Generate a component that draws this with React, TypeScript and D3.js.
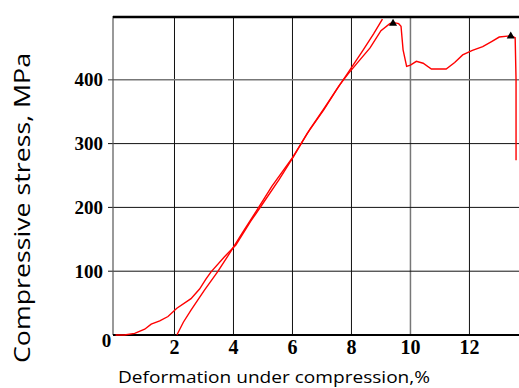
import { useEffect, useRef } from 'react'
import * as d3 from 'd3'

// curve starting at the origin
const curveAX = [0, 0.3, 0.65, 0.99, 1.21, 1.5, 1.78, 2.08, 2.56, 2.85, 3.07, 3.24, 3.68, 4.08, 4.58, 4.92, 5.54, 6.04, 6.5, 7.06, 7.5, 7.84, 8.4, 8.75, 9.05]
const curveAY = [0, 0, 2.6, 9, 17, 22, 29, 42, 57, 72, 88, 99, 122, 141, 178, 201, 243, 280, 316, 353, 385, 408, 447, 472, 495]

// curve starting at 2 %, running to failure
const curveBX = [2.08, 2.3, 2.56, 3.01, 3.46, 3.91, 4.3, 4.8, 5.3, 6.0, 6.6, 7.1, 7.6, 7.9, 8.3, 8.63, 9.0, 9.3, 9.41, 9.6, 9.68, 9.75, 9.87, 10.0, 10.2, 10.43, 10.71, 11.21, 11.5, 11.77, 12.1, 12.45, 12.75, 13.01, 13.4, 13.55, 13.58, 13.58]
const curveBY = [0, 20, 39, 70, 99, 131, 160, 196, 233, 278, 323, 357, 392, 410, 432, 450, 477, 488, 490, 488, 484, 447, 421, 423, 429, 426, 417, 417, 427, 439, 446, 452, 460, 467, 469, 466, 400, 274]

// black markers on the curve
const markerX = [9.41, 13.4]
const markerY = [490, 470]

const xTicks = [2, 4, 6, 8, 10, 12]
const yTicks = [100, 200, 300, 400]
const greyX = [10]
const greyY = [400]

export default function App() {
  const svgRef = useRef<SVGSVGElement>(null)

  useEffect(() => {
    if (!svgRef.current) return
    const svg = d3.select(svgRef.current)
    svg.selectAll('*').remove()

    const x = d3.scaleLinear().domain([0, 13.68]).range([115.5, 519])
    const y = d3.scaleLinear().domain([0, 500]).range([335, 16])
    const left = 113

    const grid = svg.append('g')

    // vertical grid lines
    xTicks.forEach(t => {
      grid.append('line')
        .attr('x1', x(t)).attr('x2', x(t))
        .attr('y1', y(500)).attr('y2', y(0))
        .attr('stroke', greyX.includes(t) ? '#777' : '#111')
        .attr('stroke-width', greyX.includes(t) ? 1.5 : 1)
    })

    // horizontal grid lines + ticks
    yTicks.forEach(t => {
      grid.append('line')
        .attr('x1', left - 5).attr('x2', 519)
        .attr('y1', y(t)).attr('y2', y(t))
        .attr('stroke', greyY.includes(t) ? '#777' : '#111')
        .attr('stroke-width', greyY.includes(t) ? 1.5 : 1)
    })

    // left axis
    grid.append('line')
      .attr('x1', left).attr('x2', left)
      .attr('y1', y(500)).attr('y2', y(0))
      .attr('stroke', '#555').attr('stroke-width', 1.2)

    // top border and zero line
    grid.append('line')
      .attr('x1', left).attr('x2', 519)
      .attr('y1', y(500) + 1).attr('y2', y(500) + 1)
      .attr('stroke', '#000').attr('stroke-width', 2.5)
    grid.append('line')
      .attr('x1', left).attr('x2', 519)
      .attr('y1', y(0)).attr('y2', y(0))
      .attr('stroke', '#000').attr('stroke-width', 2)

    const line = d3.line<[number, number]>()
      .x(d => x(d[0]))
      .y(d => y(d[1]))

    const a = curveAX.map((v, i) => [v, curveAY[i]] as [number, number])
    const b = curveBX.map((v, i) => [v, curveBY[i]] as [number, number])

    ;[a, b].forEach(pts => {
      svg.append('path')
        .attr('d', line(pts))
        .attr('fill', 'none')
        .attr('stroke', '#ff0000')
        .attr('stroke-width', 1.4)
    })

    const tri = d3.symbol().type(d3.symbolTriangle).size(28)
    markerX.forEach((mx, i) => {
      svg.append('path')
        .attr('d', tri())
        .attr('transform', `translate(${x(mx)},${y(markerY[i]) + 1})`)
        .attr('fill', '#000')
    })

    const serif = '"Liberation Serif", "Times New Roman", serif'

    // y tick labels
    yTicks.forEach(t => {
      svg.append('text')
        .attr('x', 103).attr('y', y(t))
        .attr('dy', '0.35em')
        .attr('text-anchor', 'end')
        .attr('font-family', serif)
        .attr('font-weight', 'bold')
        .attr('font-size', 19)
        .text(t)
    })

    svg.append('text')
      .attr('x', 106.5).attr('y', 347)
      .attr('text-anchor', 'middle')
      .attr('font-family', serif)
      .attr('font-weight', 'bold')
      .attr('font-size', 19)
      .text('0')

    // x tick labels
    xTicks.forEach(t => {
      svg.append('text')
        .attr('x', x(t)).attr('y', 354)
        .attr('text-anchor', 'middle')
        .attr('font-family', serif)
        .attr('font-weight', 'bold')
        .attr('font-size', 20)
        .text(t)
    })

    // axis titles
    svg.append('text')
      .attr('x', 118).attr('y', 383)
      .attr('font-family', '"Open Sans", sans-serif')
      .attr('font-size', 16)
      .attr('textLength', 312)
      .attr('lengthAdjust', 'spacingAndGlyphs')
      .text('Deformation under compression,%')

    svg.append('text')
      .attr('transform', 'translate(30,363) rotate(-90)')
      .attr('font-family', '"Open Sans", sans-serif')
      .attr('font-size', 21)
      .attr('textLength', 310)
      .attr('lengthAdjust', 'spacingAndGlyphs')
      .text('Compressive stress, MPa')
  }, [])

  return (
    <svg
      ref={svgRef}
      width={519}
      height={388}
      style={{ position: 'absolute', left: 0, top: 0, background: '#fff' }}
    />
  )
}
